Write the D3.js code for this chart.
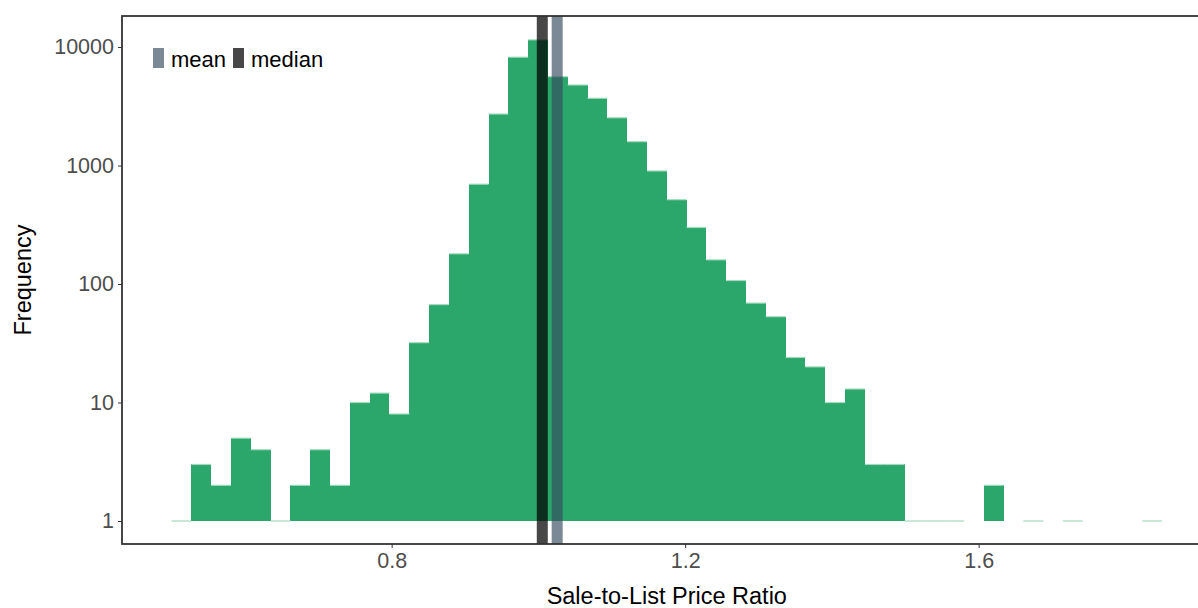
<!DOCTYPE html>
<html>
<head>
<meta charset="utf-8">
<script src="https://cdn.jsdelivr.net/npm/d3@7"></script>
<style>
  html, body { margin: 0; padding: 0; background: #fff; }
  svg { display: block; font-family: "Liberation Sans", Arial, sans-serif; }
</style>
</head>
<body>
<svg id="chart" width="1198" height="608"></svg>
<script>
// ---- data ----
const binWidth = 0.027;
const binStarts = [0.500,0.527,0.554,0.581,0.608,0.635,0.662,0.689,0.716,0.743,
                   0.770,0.797,0.824,0.851,0.878,0.905,0.932,0.959,0.986,1.013,
                   1.040,1.067,1.094,1.121,1.148,1.175,1.202,1.229,1.256,1.283,
                   1.310,1.337,1.364,1.391,1.418,1.445,1.472,1.499,1.526,1.553,
                   1.580,1.607,1.634,1.661,1.688,1.715,1.742,1.769,1.796,1.823];
const counts = [1,3,2,5,4,1,2,4,2,10,
                12,8,32,67,180,695,2720,8200,11500,5620,
                4780,3690,2530,1590,900,515,300,160,107,69,
                53,24,20,10,13,3,3,1,1,1,
                0,2,0,1,0,1,0,0,0,1];
const meanValue = 1.0256;
const medianValue = 1.0053;
const xTicks = [0.8, 1.2, 1.6];
const yTicks = [1, 10, 100, 1000, 10000];
const legendItems = ["mean", "median"];

// ---- layout ----
const svg = d3.select("#chart");
// the panel runs slightly past the right edge of the picture (cropped)
const panel = {left: 122, right: 1211.6, top: 16, bottom: 544};

const x = d3.scaleLinear().domain([0.4325, 1.9175]).range([panel.left, panel.right]);
const y = d3.scaleLog().domain([Math.pow(10, -0.194), Math.pow(10, 4.2616)]).range([panel.bottom, panel.top]);

const barFill = "#2ca76b";
const barStroke = "#a3dabd";
const meanColor = "#34495e", meanOpacity = 0.65;
const medianColor = "#000000", medianOpacity = 0.72;

const bins = binStarts.map((s, i) => ({x0: s, x1: s + binWidth, n: counts[i]})).filter(d => d.n > 0);

// bars
const bars = svg.append("g").attr("shape-rendering", "crispEdges");
bars.selectAll("rect").data(bins).join("rect")
  .attr("x", d => Math.round(x(d.x0)))
  .attr("width", d => Math.round(x(d.x1)) - Math.round(x(d.x0)))
  .attr("y", d => y(d.n))
  .attr("height", d => y(1) - y(d.n))
  .attr("fill", barFill);
// light top outlines (also shows the count-1 bins as thin lines)
svg.append("g").selectAll("line").data(bins).join("line")
  .attr("x1", d => x(d.x0)).attr("x2", d => x(d.x1))
  .attr("y1", d => y(d.n)).attr("y2", d => y(d.n))
  .attr("stroke", barStroke).attr("stroke-width", 1.2);

// mean / median lines
const lines = [
  {v: meanValue, c: meanColor, o: meanOpacity},
  {v: medianValue, c: medianColor, o: medianOpacity}
];
svg.append("g").selectAll("line").data(lines).join("line")
  .attr("x1", d => x(d.v)).attr("x2", d => x(d.v))
  .attr("y1", panel.top).attr("y2", panel.bottom)
  .attr("stroke", d => d.c)
  .attr("stroke-opacity", d => d.o)
  .attr("stroke-width", 11);

// panel border
svg.append("rect")
  .attr("x", panel.left).attr("y", panel.top)
  .attr("width", panel.right - panel.left).attr("height", panel.bottom - panel.top)
  .attr("fill", "none").attr("stroke", "#333").attr("stroke-width", 1.8);

// axes
const xAxis = svg.append("g")
  .attr("transform", `translate(0,${panel.bottom})`)
  .call(d3.axisBottom(x).tickValues(xTicks).tickSize(4).tickPadding(5).tickFormat(d3.format(".1f")));
const yAxis = svg.append("g")
  .attr("transform", `translate(${panel.left},0)`)
  .call(d3.axisLeft(y).tickValues(yTicks).tickSize(4).tickPadding(4).tickFormat(d3.format("d")));
[xAxis, yAxis].forEach(a => {
  a.select(".domain").remove();
  a.selectAll(".tick line").attr("stroke", "#333").attr("stroke-width", 1);
  a.selectAll(".tick text").attr("fill", "#4d4d4d").style("font-size", "21.5px")
    .style("font-family", "'Liberation Sans', Arial, sans-serif");
});

// axis titles
svg.append("text")
  .attr("x", (panel.left + panel.right) / 2).attr("y", 604)
  .attr("text-anchor", "middle").style("font-size", "23.5px").attr("fill", "#000")
  .text("Sale-to-List Price Ratio");
svg.append("text")
  .attr("transform", `translate(31,${(panel.top + panel.bottom) / 2}) rotate(-90)`)
  .attr("text-anchor", "middle").style("font-size", "23.5px").attr("fill", "#000")
  .text("Frequency");

// legend
const legendColors = [{c: meanColor, o: meanOpacity}, {c: medianColor, o: medianOpacity}];
const legendX = [153, 233];
const lg = svg.append("g");
legendItems.forEach((t, i) => {
  lg.append("rect").attr("x", legendX[i]).attr("y", 48).attr("width", 11).attr("height", 20)
    .attr("fill", legendColors[i].c).attr("fill-opacity", legendColors[i].o);
  lg.append("text").attr("x", legendX[i] + 18).attr("y", 66.5)
    .style("font-size", "22px").attr("fill", "#000").text(t);
});
</script>
</body>
</html>
